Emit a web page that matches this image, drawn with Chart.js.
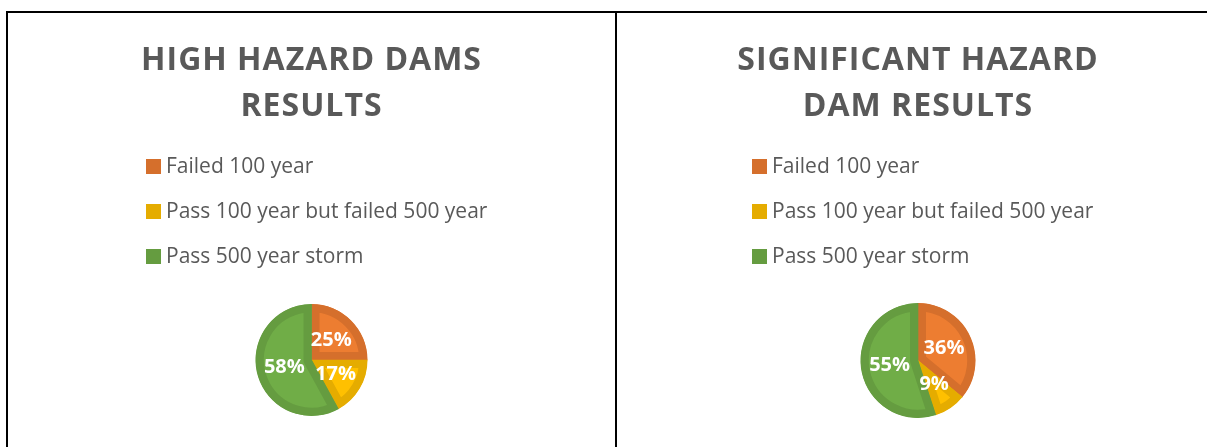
<!DOCTYPE html>
<html>
<head>
<meta charset="utf-8">
<script src="https://cdn.jsdelivr.net/npm/chart.js@4"></script>
<style>
  html, body { margin: 0; padding: 0; background: #fff; overflow: hidden; }
  #frame { position: absolute; left: 6px; top: 11px; width: 1220px; height: 440px;
           border-top: 2px solid #000; border-left: 2px solid #000; }
  #divider { position: absolute; left: 615px; top: 11px; width: 2px; height: 440px; background: #000; }
  canvas { position: absolute; top: 14px; }
  #leftChart { left: 8px; }
  #rightChart { left: 618px; }
</style>
</head>
<body>
<div id="frame"></div>
<div id="divider"></div>
<canvas id="leftChart" width="607" height="433"></canvas>
<canvas id="rightChart" width="600" height="433"></canvas>
<script>
const categories = ['Failed 100 year', 'Pass 100 year but failed 500 year', 'Pass 500 year storm'];
const highHazardPct = [25, 17, 58];
const significantHazardPct = [36, 9, 55];
const highTitle = ['HIGH HAZARD DAMS', 'RESULTS'];
const significantTitle = ['SIGNIFICANT HAZARD', 'DAM RESULTS'];

const fillColors = ['#ED7D31', '#FFC000', '#70AD47'];
const edgeColors = ['#D56F2C', '#E5AC00', '#659C40'];
const textGrey = '#595959';

// titles + legend drawn straight on the canvas
const panelText = {
    id: 'panelText',
    afterDraw(chart, args, opts) {
        const ctx = chart.ctx;
        const cx = chart.width / 2;
        ctx.save();
        ctx.fillStyle = textGrey;
        ctx.font = 'bold 32px "Open Sans"';
        ctx.letterSpacing = '1px';
        ctx.textAlign = 'center';
        ctx.textBaseline = 'alphabetic';
        opts.title.forEach((line, i) => ctx.fillText(line, cx, 56 + i * 46));

        ctx.letterSpacing = '0px';
        ctx.textAlign = 'left';
        ctx.font = '21px "Open Sans"';
        chart.data.labels.forEach((label, i) => {
            const y = 159 + i * 45;
            ctx.fillStyle = edgeColors[i];
            ctx.fillRect(opts.boxX, y - 14, 15, 15);
            ctx.fillStyle = textGrey;
            ctx.fillText(label, opts.textX, y);
        });
        ctx.restore();
    }
};

const sliceLabels = {
    id: 'sliceLabels',
    afterDatasetsDraw(chart) {
        const ctx = chart.ctx;
        const meta = chart.getDatasetMeta(0);
        ctx.save();
        ctx.fillStyle = '#fff';
        ctx.font = 'bold 20px "Open Sans"';
        ctx.textAlign = 'center';
        ctx.textBaseline = 'middle';
        meta.data.forEach((arc, i) => {
            const p = arc.tooltipPosition();
            ctx.fillText(chart.data.datasets[0].data[i] + '%', p.x, p.y);
        });
        ctx.restore();
    }
};

function makePie(id, values, title, padding, boxX, textX) {
    return new Chart(document.getElementById(id), {
        type: 'pie',
        data: {
            labels: categories,
            datasets: [{
                data: values,
                backgroundColor: fillColors,
                borderColor: edgeColors,
                borderWidth: 8,
                borderAlign: 'inner'
            }]
        },
        options: {
            responsive: false,
            animation: false,
            layout: { padding: padding },
            plugins: {
                legend: { display: false },
                tooltip: { enabled: false },
                panelText: { title: title, boxX: boxX, textX: textX }
            }
        },
        plugins: [panelText, sliceLabels]
    });
}

makePie('leftChart', highHazardPct, highTitle, { top: 290, bottom: 31, left: 0, right: 0 }, 138, 158);
makePie('rightChart', significantHazardPct, significantTitle, { top: 289, bottom: 29, left: 0, right: 0 }, 134, 154);
</script>
</body>
</html>
